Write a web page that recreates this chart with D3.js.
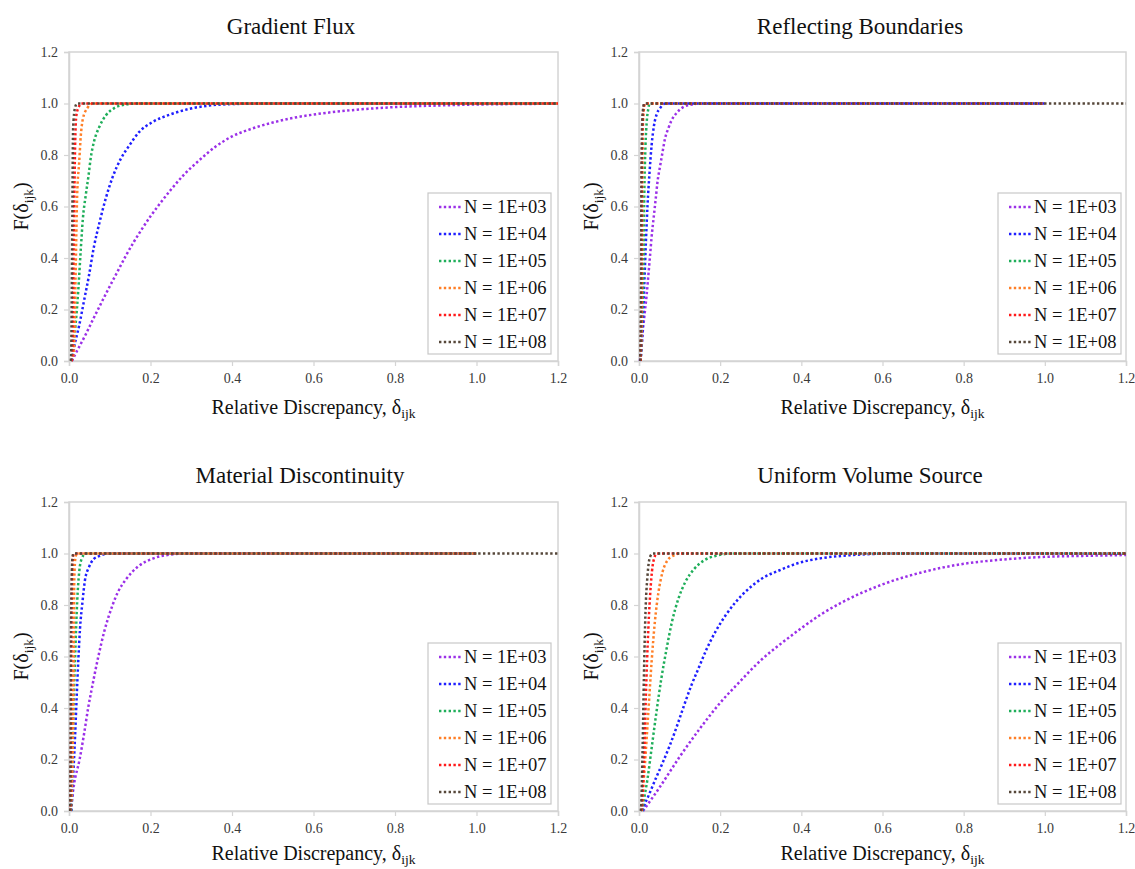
<!DOCTYPE html>
<html>
<head>
<meta charset="utf-8">
<script src="https://cdn.jsdelivr.net/npm/d3@7"></script>
<style>
body{margin:0;background:#fff;}
svg text{font-family:"Liberation Serif","Times New Roman",serif;}
</style>
</head>
<body>
<div id="chart"></div>
<script>
"use strict";

//********************************* DATA *********************************
var panelTitles = ["Gradient Flux", "Reflecting Boundaries", "Material Discontinuity", "Uniform Volume Source"];
var seriesLabels = ["N = 1E+03", "N = 1E+04", "N = 1E+05", "N = 1E+06", "N = 1E+07", "N = 1E+08"];
var seriesColors = ["#9b30e8", "#1f1fff", "#1fae5a", "#ff7f27", "#ff1a1a", "#56473a"];
var xTicks = [0.0, 0.2, 0.4, 0.6, 0.8, 1.0, 1.2];
var yTicks = [0.0, 0.2, 0.4, 0.6, 0.8, 1.0, 1.2];

//Gradient Flux  [delta, F]
var gradN3 = [[0.007,0],[0.020,0.040],[0.040,0.100],[0.060,0.165],[0.080,0.228],[0.100,0.290],[0.120,0.350],[0.140,0.410],[0.160,0.465],[0.180,0.515],[0.200,0.562],[0.220,0.605],[0.250,0.665],[0.280,0.720],[0.320,0.780],[0.360,0.833],[0.400,0.872],[0.450,0.903],[0.500,0.926],[0.550,0.944],[0.600,0.957],[0.700,0.975],[0.800,0.986],[0.900,0.992],[1.000,0.996],[1.100,0.998],[1.200,0.999]];
var gradN4 = [[0.007,0],[0.012,0.048],[0.025,0.138],[0.037,0.235],[0.049,0.332],[0.061,0.442],[0.075,0.539],[0.090,0.630],[0.107,0.714],[0.127,0.785],[0.148,0.837],[0.172,0.889],[0.205,0.928],[0.246,0.956],[0.295,0.979],[0.344,0.992],[0.402,0.998],[0.500,1.0],[1.200,1.0]];
var gradN5 = [[0.006,0],[0.008,0.035],[0.016,0.138],[0.023,0.281],[0.029,0.436],[0.034,0.552],[0.041,0.643],[0.048,0.721],[0.053,0.785],[0.061,0.850],[0.074,0.908],[0.090,0.953],[0.111,0.982],[0.139,0.996],[0.172,1.0],[1.200,1.0]];
var gradN6 = [[0.006,0],[0.012,0.035],[0.016,0.320],[0.020,0.643],[0.025,0.772],[0.029,0.876],[0.034,0.940],[0.045,0.982],[0.057,1.0],[1.200,1.0]];
var gradN7 = [[0.006,0],[0.008,0.020],[0.012,0.510],[0.015,0.837],[0.018,0.953],[0.025,0.990],[0.029,1.0],[1.200,1.0]];
var gradN8 = [[0.004,0],[0.005,0.010],[0.008,0.510],[0.010,0.900],[0.015,0.985],[0.020,1.0],[1.200,1.0]];

//Reflecting Boundaries
var reflN3 = [[0.002,0],[0.005,0.035],[0.009,0.110],[0.014,0.185],[0.019,0.259],[0.023,0.332],[0.027,0.405],[0.031,0.481],[0.036,0.555],[0.041,0.627],[0.046,0.701],[0.052,0.757],[0.058,0.811],[0.064,0.863],[0.072,0.902],[0.080,0.934],[0.093,0.964],[0.109,0.986],[0.130,0.996],[0.151,1.0],[1.000,1.0]];
var reflN4 = [[0.004,0],[0.009,0.125],[0.013,0.294],[0.017,0.462],[0.021,0.605],[0.026,0.733],[0.031,0.837],[0.037,0.915],[0.044,0.960],[0.052,0.982],[0.064,1.0],[1.000,1.0]];
var reflN5 = [[0.004,0],[0.007,0.125],[0.011,0.384],[0.013,0.643],[0.016,0.837],[0.019,0.928],[0.023,0.980],[0.026,1.0],[1.000,1.0]];
var reflN6 = [[0.004,0],[0.007,0.300],[0.008,0.700],[0.010,0.930],[0.013,0.990],[0.015,1.0],[1.000,1.0]];
var reflN7 = [[0.004,0],[0.006,0.300],[0.007,0.700],[0.009,0.930],[0.012,0.990],[0.014,1.0],[1.000,1.0]];
var reflN8 = [[0.003,0],[0.005,0.300],[0.006,0.700],[0.008,0.930],[0.011,0.990],[0.013,1.0],[1.200,1.0]];

//Material Discontinuity
var matN3 = [[0.004,0],[0.012,0.100],[0.026,0.200],[0.037,0.300],[0.047,0.400],[0.059,0.500],[0.072,0.600],[0.087,0.700],[0.107,0.800],[0.120,0.850],[0.140,0.900],[0.170,0.950],[0.205,0.980],[0.250,0.996],[0.290,1.0],[1.000,1.0]];
var matN4 = [[0.006,0],[0.010,0.125],[0.015,0.294],[0.019,0.449],[0.023,0.591],[0.027,0.708],[0.033,0.811],[0.039,0.895],[0.049,0.947],[0.061,0.979],[0.078,0.992],[0.094,1.0],[1.000,1.0]];
var matN5 = [[0.005,0],[0.007,0.125],[0.011,0.384],[0.016,0.643],[0.020,0.811],[0.025,0.928],[0.031,0.979],[0.041,1.0],[1.000,1.0]];
var matN6 = [[0.004,0],[0.008,0.125],[0.011,0.510],[0.013,0.900],[0.016,0.985],[0.020,1.0],[1.000,1.0]];
var matN7 = [[0.003,0],[0.005,0.300],[0.006,0.700],[0.008,0.930],[0.010,0.990],[0.012,1.0],[1.000,1.0]];
var matN8 = [[0.003,0],[0.004,0.300],[0.005,0.700],[0.007,0.930],[0.009,0.990],[0.011,1.0],[1.200,1.0]];

//Uniform Volume Source
var unifN3 = [[0.010,0],[0.050,0.090],[0.100,0.210],[0.150,0.320],[0.200,0.420],[0.250,0.505],[0.300,0.585],[0.350,0.650],[0.400,0.710],[0.450,0.765],[0.500,0.810],[0.600,0.880],[0.700,0.928],[0.800,0.960],[0.900,0.977],[1.000,0.987],[1.100,0.991],[1.200,0.994]];
var unifN4 = [[0.009,0],[0.012,0.016],[0.024,0.061],[0.041,0.125],[0.059,0.190],[0.076,0.255],[0.094,0.332],[0.111,0.410],[0.129,0.488],[0.148,0.559],[0.167,0.630],[0.190,0.701],[0.213,0.759],[0.238,0.811],[0.268,0.860],[0.302,0.902],[0.345,0.934],[0.395,0.964],[0.450,0.982],[0.510,0.992],[0.575,0.998],[0.640,1.0],[1.200,1.0]];
var unifN5 = [[0.008,0],[0.010,0.022],[0.021,0.125],[0.032,0.255],[0.043,0.384],[0.055,0.514],[0.068,0.630],[0.081,0.733],[0.097,0.824],[0.114,0.889],[0.136,0.940],[0.160,0.973],[0.192,0.992],[0.230,1.0],[1.200,1.0]];
var unifN6 = [[0.006,0],[0.007,0.022],[0.015,0.190],[0.023,0.384],[0.031,0.578],[0.039,0.733],[0.048,0.850],[0.058,0.928],[0.070,0.973],[0.085,0.992],[0.101,1.0],[1.200,1.0]];
var unifN7 = [[0.006,0],[0.007,0.009],[0.012,0.190],[0.017,0.449],[0.023,0.708],[0.029,0.876],[0.035,0.966],[0.044,1.0],[1.200,1.0]];
var unifN8 = [[0.004,0],[0.005,0.009],[0.009,0.255],[0.012,0.514],[0.016,0.772],[0.021,0.915],[0.027,0.986],[0.034,1.0],[1.200,1.0]];

var panelSeries = [
	[gradN3, gradN4, gradN5, gradN6, gradN7, gradN8],
	[reflN3, reflN4, reflN5, reflN6, reflN7, reflN8],
	[matN3, matN4, matN5, matN6, matN7, matN8],
	[unifN3, unifN4, unifN5, unifN6, unifN7, unifN8]
];

//********************************* LAYOUT *********************************
var W = 1135, H = 869;
//plot rectangles for the 4 panels + where the title and x label sit
var panelLayout = [
	{x: 69,  y: 52,  w: 489, h: 309, titleX: 291, titleY: 34,  labelY: 414},
	{x: 639, y: 52,  w: 487, h: 309, titleX: 860, titleY: 34,  labelY: 414},
	{x: 69,  y: 502, w: 489, h: 309, titleX: 300, titleY: 483, labelY: 860},
	{x: 639, y: 502, w: 487, h: 309, titleX: 870, titleY: 483, labelY: 860}
];
var axisGray = "#d4d4d4";
var tickTextColor = "#3a3a3a";

var svg = d3.select("#chart").append("svg")
	.attr("width", W)
	.attr("height", H);

panelLayout.forEach(function(p, pi){
	var g = svg.append("g").attr("transform", "translate(" + p.x + "," + p.y + ")");

	var x = d3.scaleLinear().domain([0, 1.2]).range([0, p.w]);
	var y = d3.scaleLinear().domain([0, 1.2]).range([p.h, 0]);

	//plot area border (light gray, Excel style)
	g.append("rect")
		.attr("x", 0).attr("y", 0)
		.attr("width", p.w).attr("height", p.h)
		.attr("fill", "none")
		.attr("stroke", axisGray)
		.attr("stroke-width", 1.5);

	var xAxis = g.append("g")
		.attr("transform", "translate(0," + p.h + ")")
		.call(d3.axisBottom(x).tickValues(xTicks).tickFormat(d3.format(".1f")).tickSizeOuter(0).tickSize(5).tickPadding(7));
	var yAxis = g.append("g")
		.call(d3.axisLeft(y).tickValues(yTicks).tickFormat(d3.format(".1f")).tickSizeOuter(0).tickSize(5).tickPadding(6));

	[xAxis, yAxis].forEach(function(a){
		a.attr("font-family", "'Liberation Serif', serif");
		a.select(".domain").attr("stroke", axisGray).attr("stroke-width", 1.5);
		a.selectAll(".tick line").attr("stroke", axisGray).attr("stroke-width", 1.2);
		a.selectAll(".tick text")
			.attr("fill", tickTextColor)
			.style("font-size", "14px");
	});

	//curves
	var line = d3.line()
		.x(function(d){ return x(d[0]); })
		.y(function(d){ return y(d[1]); })
		.curve(d3.curveMonotoneX);

	panelSeries[pi].forEach(function(s, si){
		g.append("path")
			.datum(s)
			.attr("d", line)
			.attr("fill", "none")
			.attr("stroke", seriesColors[si])
			.attr("stroke-width", 2.5)
			.attr("stroke-dasharray", "2.4,2.4");
	});

	//legend
	var lx = 359, ly = 141, lw = 123, lh = 161;
	var leg = g.append("g").attr("transform", "translate(" + lx + "," + ly + ")");
	leg.append("rect")
		.attr("width", lw).attr("height", lh)
		.attr("fill", "#fff")
		.attr("stroke", "#c8c8c8")
		.attr("stroke-width", 1.2);
	seriesLabels.forEach(function(lab, i){
		var ry = 14 + i * 27;
		leg.append("line")
			.attr("x1", 11).attr("x2", 35)
			.attr("y1", ry).attr("y2", ry)
			.attr("stroke", seriesColors[i])
			.attr("stroke-width", 2.5)
			.attr("stroke-dasharray", "2.4,2.4");
		leg.append("text")
			.attr("x", 36).attr("y", ry)
			.attr("dy", "0.35em")
			.attr("fill", "#111")
			.style("font-size", "18.5px")
			.text(lab);
	});

	//title
	svg.append("text")
		.attr("x", p.titleX).attr("y", p.titleY)
		.attr("text-anchor", "middle")
		.attr("fill", "#111")
		.style("font-size", "23px")
		.text(panelTitles[pi]);

	//x axis label with subscript
	var xl = svg.append("text")
		.attr("x", p.x + p.w / 2).attr("y", p.labelY)
		.attr("text-anchor", "middle")
		.attr("fill", "#111")
		.style("font-size", "20px");
	xl.append("tspan").text("Relative Discrepancy, δ");
	xl.append("tspan").attr("dy", 3.5).style("font-size", "13.5px").text("ijk");

	//y axis label with subscript (rotated)
	var yl = svg.append("text")
		.attr("transform", "translate(" + (p.x - 41) + "," + (p.y + p.h / 2) + ") rotate(-90)")
		.attr("text-anchor", "middle")
		.attr("fill", "#111")
		.style("font-size", "20px");
	yl.append("tspan").text("F(δ");
	yl.append("tspan").attr("dy", 5).style("font-size", "13.5px").text("ijk");
	yl.append("tspan").attr("dy", -5).text(")");
});
</script>
</body>
</html>
